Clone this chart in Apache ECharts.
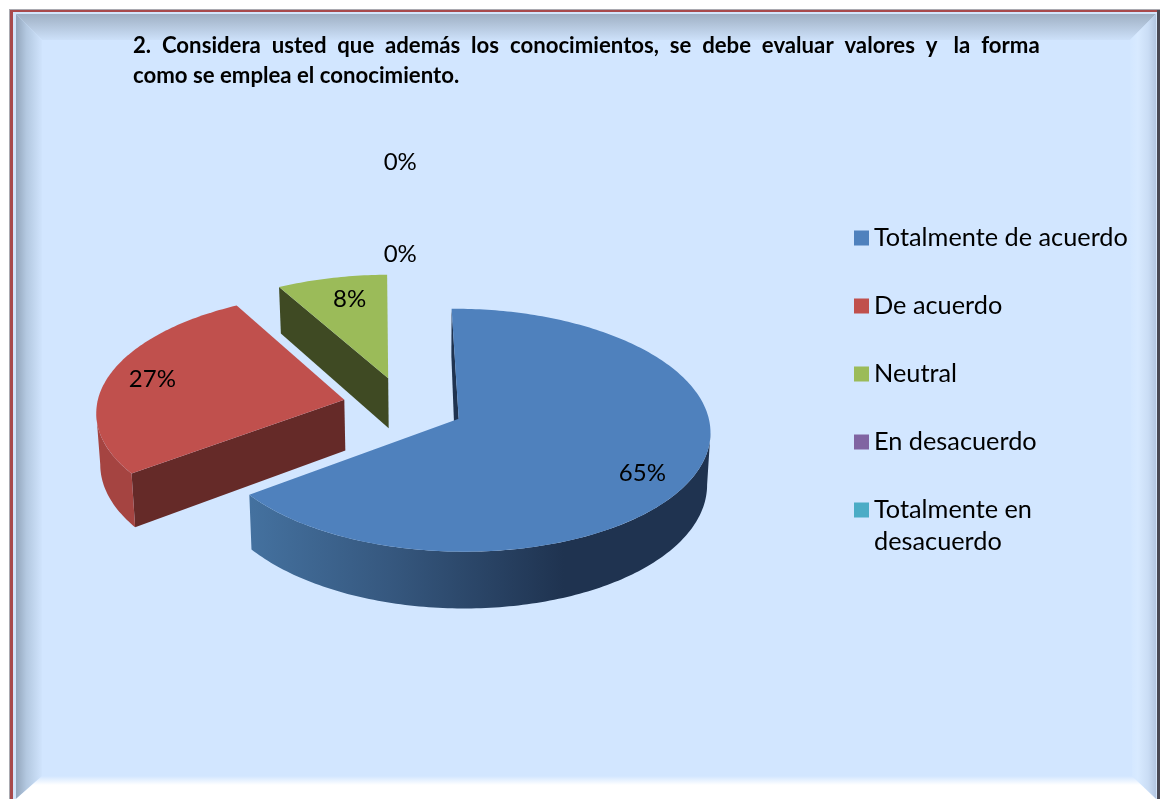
<!DOCTYPE html>
<html>
<head>
<meta charset="utf-8">
<style>html,body{margin:0;padding:0;background:#fff}#c{width:1160px;height:799px}</style>
<script src="https://cdn.jsdelivr.net/npm/echarts@6/dist/echarts.min.js"></script>
</head>
<body>
<div id="c"></div>
<script>
var TITLE_TEXT = "2.  Considera  usted  que  además  los  conocimientos,  se  debe  evaluar  valores  y   la  forma\ncomo se emplea el conocimiento.";
var CATEGORIES = ["Totalmente de acuerdo", "De acuerdo", "Neutral", "En desacuerdo", "Totalmente en desacuerdo"];
var VALUES = [65, 27, 8, 0, 0];
var TOP_COLORS = ["#4F81BD", "#C0504D", "#9BBB59", "#8064A2", "#4BACC6"];
var RIM_COLORS = [null, "#A54441", "#5d6e34", "#4c3c61", "#2d6776"];
var EDGE_COLORS = ["#1F3350", "#652A28", "#3F4A23", "#33283f", "#1e4550"];

/* label placement: radial distance (in pie radii) and turn (degrees) */
var LABEL_RADIUS = [0.82, 0.815, 0.77, 1.21, 2.31];
var LABEL_TURN = [5.6, 0.6, 1.9, 0, 0.25];

var FONT = 'Lato, "Open Sans", sans-serif';
var X0 = 403.6, Y0 = 405.8, RX = 247.6, RY = 118, K = 0.0924, DEPTH = 51, XV = 430, SHRINK = 0.988, EXPLODE = 0.246, ROTATION = -0.6;
var RAD = Math.PI / 180;
var total = VALUES.reduce(function (a, b) { return a + b; }, 0);

function project(u, v, lift) {
  var w = 1 / (1 + K * v);
  var x = X0 + RX * u * w, y = Y0 - RY * v * w;
  if (lift) { x = XV + (x - XV) * SHRINK; y += DEPTH * w; }
  return [x, y];
}
function sliceAngles(i) {
  var before = 0;
  for (var j = 0; j < i; j++) before += VALUES[j];
  return [ROTATION + before / total * 360, ROTATION + (before + VALUES[i]) / total * 360];
}
function renderSlice(params, api) {
  var i = params.seriesIndex;
  var val = api.value(0);
  var a = sliceAngles(i), t0 = a[0], t1 = a[1], mid = (t0 + t1) / 2;
  var cu = EXPLODE * Math.sin(mid * RAD), cv = EXPLODE * Math.cos(mid * RAD);
  var children = [];
  function rim(t, lift) { return project(cu + Math.sin(t * RAD), cv + Math.cos(t * RAD), lift); }
  if (val > 0) {
    var apex = project(cu, cv, false), apexLow = project(cu, cv, true);
    /* start radial wall */
    if (Math.cos((t0 - 90) * RAD) <= 1e-6) {
      var low = apexLow.slice();
      if (i === 0) low[0] -= 2.5;
      children.push({ type: 'polygon', silent: true, shape: { points: [rim(t0, false), apex, low, rim(t0, true)] }, style: { fill: EDGE_COLORS[i] } });
    }
    /* outer rim wall, between the left and right silhouette points of the rim */
    var sR = 90, sL = 270, t;
    for (t = 60; t <= 120; t += 0.5) if (rim(t, false)[0] > rim(sR, false)[0]) sR = t;
    for (t = 240; t <= 300; t += 0.5) if (rim(t, false)[0] < rim(sL, false)[0]) sL = t;
    var from = Math.max(t0, sR), to = Math.min(t1, sL);
    if (to > from) {
      var upper = [], lower = [], m = Math.ceil(to - from);
      for (var q = 0; q <= m; q++) {
        t = from + (to - from) * q / m;
        upper.push(rim(t, false)); lower.unshift(rim(t, true));
      }
      var fill = RIM_COLORS[i];
      if (!fill) {
        fill = new echarts.graphic.LinearGradient(251, 0, 711, 0, [
          { offset: 0, color: '#44719F' }, { offset: 0.3, color: '#36587F' },
          { offset: 0.68, color: '#1F3350' }, { offset: 1, color: '#1F3350' }], true);
      }
      children.push({ type: 'polygon', silent: true, shape: { points: upper.concat(lower) }, style: { fill: fill } });
    }
    /* top face */
    var pts = [apex];
    var n = Math.ceil(t1 - t0);
    for (var s = 0; s <= n; s++) pts.push(rim(t0 + (t1 - t0) * s / n, false));
    children.push({ type: 'polygon', silent: true, shape: { points: pts }, style: { fill: TOP_COLORS[i] } });
  }
  var lt = mid + LABEL_TURN[i], lr = LABEL_RADIUS[i];
  var lp = project(cu + lr * Math.sin(lt * RAD), cv + lr * Math.cos(lt * RAD), false);
  children.push({ type: 'text', silent: true, style: {
    text: Math.round(val / total * 100) + '%', x: lp[0], y: lp[1], align: 'center', verticalAlign: 'middle',
    fontSize: 24, fontFamily: FONT, fill: '#000' } });
  return { type: 'group', children: children };
}

function vGrad(a, b, y0, y1) { return new echarts.graphic.LinearGradient(0, y0, 0, y1, [{ offset: 0, color: a }, { offset: 1, color: b }], true); }
function hGrad(stops, x0, x1) { return new echarts.graphic.LinearGradient(x0, 0, x1, 0, stops, true); }
function rect(x, y, w, h, fill) { return { type: 'rect', silent: true, z: -10, shape: { x: x, y: y, width: w, height: h }, style: { fill: fill } }; }
function poly(points, fill) { return { type: 'polygon', silent: true, z: -9, shape: { points: points }, style: { fill: fill } }; }

var frame = [
  rect(9, 9, 1151, 790, '#A9A9B0'),
  rect(10, 10, 1150, 789, '#A84A4C'),
  rect(1157, 10, 3, 789, '#4A4A55'),
  rect(13, 12, 1144, 787, '#D3E5FB'),
  rect(16, 14, 1140, 785, '#D2E6FF'),
  poly([[16, 14], [1156, 14], [1130, 40], [42, 40]], vGrad('#9FB0C4', '#D0E4FD', 14, 42)),
  poly([[16, 14], [42, 40], [42, 776], [16, 799]], hGrad([{ offset: 0, color: '#93A6BC' }, { offset: 0.4, color: '#B3C8E0' }, { offset: 1, color: '#D0E4FD' }], 16, 42)),
  poly([[1156, 14], [1130, 40], [1132, 776], [1156, 799]], hGrad([{ offset: 0, color: '#D3E7FF' }, { offset: 0.3, color: '#D8EAFF' }, { offset: 0.7, color: '#CADDF5' }, { offset: 1, color: '#B4C7E2' }], 1130, 1156)),
  poly([[16, 799], [42, 776], [1132, 776], [1156, 799]], vGrad('#D2E6FF', '#FFFFFF', 776, 785))
];

var series = CATEGORIES.map(function (name, i) {
  return {
    type: 'custom', name: name, coordinateSystem: 'none', silent: true,
    renderItem: renderSlice, data: [[VALUES[i]]],
    itemStyle: { color: TOP_COLORS[i] }, z: 5 + i, clip: false
  };
});

var legendBase = {
  orient: 'vertical', left: 854, padding: 0, itemWidth: 15, itemHeight: 15, itemGap: 36,
  icon: 'rect', selectedMode: false,
  formatter: function (n) { return n === 'Totalmente en desacuerdo' ? '\nTotalmente en\ndesacuerdo' : n; },
  textStyle: { fontFamily: FONT, fontSize: 25.3, lineHeight: 32, color: '#000' }
};
var chart = echarts.init(document.getElementById('c'), null, { renderer: 'canvas' });
chart.setOption({
  animation: false,
  backgroundColor: '#ffffff',
  title: {
    text: TITLE_TEXT, left: 133, top: 31, padding: 0, itemGap: 0,
    textStyle: { fontFamily: FONT, fontWeight: 'bold', fontSize: 22.2, lineHeight: 30, color: '#000' }
  },
  legend: [
    Object.assign({}, legendBase, { top: 222, data: CATEGORIES.slice(0, 4) }),
    Object.assign({}, legendBase, { top: 462, data: CATEGORIES.slice(4) })
  ],
  graphic: frame,
  series: series
});
</script>
</body>
</html>
